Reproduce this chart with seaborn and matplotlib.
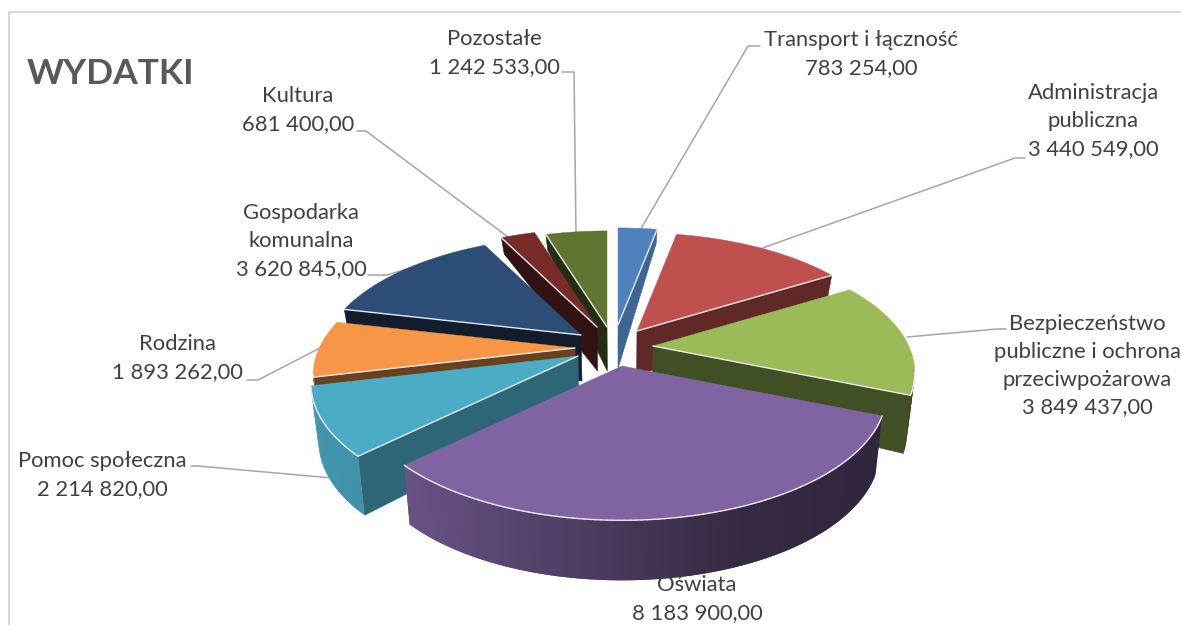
import matplotlib
matplotlib.use('Agg')
import matplotlib.pyplot as plt
import seaborn as sns
import numpy as np

## chart data
names = ['Transport i łączność', 'Administracja\npubliczna', 'Bezpieczeństwo\npubliczne i ochrona\nprzeciwpożarowa',
         'Oświata', 'Pomoc społeczna', 'Rodzina', 'Gospodarka\nkomunalna', 'Kultura', 'Pozostałe']
values = [783254, 3440549, 3849437, 8183900, 2214820, 1893262, 3620845, 681400, 1242533]

## slice colours and how dark their cut faces are
top_colors = ['#4f81bd', '#c0504d', '#9bbb59', '#8064a2', '#4bacc6', '#f79646', '#2c4d75', '#772c2a', '#5f7530']
cut_shade = [0.78, 0.5, 0.42, 0.4, 0.6, 0.43, 0.38, 0.42, 0.38]

## layout, everything in pixels of the 1181x625 picture
tips = [(618, 325), (637, 331), (653, 346), (622, 366), (578, 356), (575, 348), (581, 335), (597, 327), (607, 327)]
radius_scale = [0.96, 0.97, 0.98, 0.99, 1.0, 0.98, 0.975, 0.97, 0.95]
draw_order = [0, 8, 7, 1, 6, 2, 5, 4, 3]
label_pos = [(861, 54), (1093, 121), (1087, 366), (697, 599), (102, 475), (177, 358), (301, 241), (298, 110), (494, 53)]
leaders = [[(639, 232), (748, 46), (760, 46)],
           [(757, 250), (1015, 158), (1025, 158)],
           [(907, 337), (997, 329), (1006, 329)],
           [],
           [(332, 478), (198, 466), (191, 466)],
           [(320, 348), (258, 380), (247, 380)],
           [(410, 268), (387, 275), (368, 275)],
           [(512, 240), (366, 131), (357, 131)],
           [(576, 235), (574, 72), (562, 72)]]

R, q, k = 261, 0.47, 0.213

sns.set_theme(style='white')
plt.rcParams['font.family'] = ['Lato', 'DejaVu Sans']
colors = sns.color_palette(top_colors)


def project(tip, a, scale=1.0):
    f = scale * R / (1 + k * np.cos(a))
    return tip[0] + f * np.sin(a), tip[1] - q * f * np.cos(a)


def drop(x, y):
    ## screen position of the lower rim below a point of the top face
    depth = np.interp(y, [230, 330, 390, 520], [14, 45, 58, 60])
    return x - (x - 620) * 0.025, y + depth


def wall_shade(x):
    return np.interp(x, [300, 410, 740, 900], [0.88, 0.82, 0.42, 0.37])


def dark(c, s):
    return tuple(np.array(c) * s)


fig = plt.figure(figsize=(11.81, 6.25), dpi=100)
ax = fig.add_axes([0, 0, 1, 1])
ax.set_xlim(0, 1181)
ax.set_ylim(625, 0)
ax.axis('off')

## frame of the chart area
ax.plot([9, 9, 1181], [625, 12, 12], color='#d9d9d9', lw=1.5, zorder=1)

## leader lines go under the pie
for pts in leaders:
    if pts:
        ax.plot(*zip(*pts), color='#a6a6a6', lw=1.1, zorder=1.5)

## angles of the slices, clockwise from the top
ends = np.cumsum(values) / np.sum(values) * 2 * np.pi
starts = np.r_[0, ends[:-1]]

z = 2
for i in draw_order:
    c = colors[i]
    a = np.linspace(starts[i], ends[i], max(int(np.degrees(ends[i] - starts[i])), 3) + 1)
    xs, ys = project(tips[i], a, radius_scale[i])
    px = np.r_[tips[i][0], xs, tips[i][0]]
    py = np.r_[tips[i][1], ys, tips[i][1]]

    ## walls below the edges turned towards the viewer
    for j in [0, len(px) - 2]:
        if px[j + 1] < px[j]:
            bx0, by0 = drop(px[j], py[j])
            bx1, by1 = drop(px[j + 1], py[j + 1])
            ax.fill([px[j], px[j + 1], bx1, bx0], [py[j], py[j + 1], by1, by0],
                    color=dark(c, cut_shade[i]), lw=0.4, zorder=z)
            z += 1
    ## outer wall, strips overlap the next one so no seams show
    for j in range(len(px) - 3, 0, -1):
        if px[j + 1] < px[j]:
            e = min(j + 2, len(px) - 2)
            bx0, by0 = drop(px[j], py[j])
            bx1, by1 = drop(px[j + 1], py[j + 1])
            bx2, by2 = drop(px[e], py[e])
            ax.fill([px[j], px[j + 1], px[e], bx2, bx1, bx0], [py[j], py[j + 1], py[e], by2, by1, by0],
                    color=dark(c, wall_shade(px[j])), lw=0, zorder=z)
            z += 1

    ax.fill(px, py, color=c, lw=0.3, zorder=z)
    z += 1

    ## light bevel along the same edges
    for j in range(len(px) - 1):
        if px[j + 1] < px[j]:
            ax.plot(px[j:j + 2], py[j:j + 2], color='#e8e8ec', lw=1.0, zorder=z, solid_capstyle='round')
    z += 1

## labels
for name, v, pos in zip(names, values, label_pos):
    txt = f'{v:,.2f}'.replace(',', ' ').replace('.', ',')
    ax.text(pos[0], pos[1], f'{name}\n{txt}', ha='center', va='center', fontsize=15.8,
            color='#404040', linespacing=1.48, zorder=z + 1)

ax.text(27, 74, 'WYDATKI', ha='left', va='center', fontsize=25.5, fontweight='bold', color='#595959')

plt.savefig('out.png', dpi=100)
